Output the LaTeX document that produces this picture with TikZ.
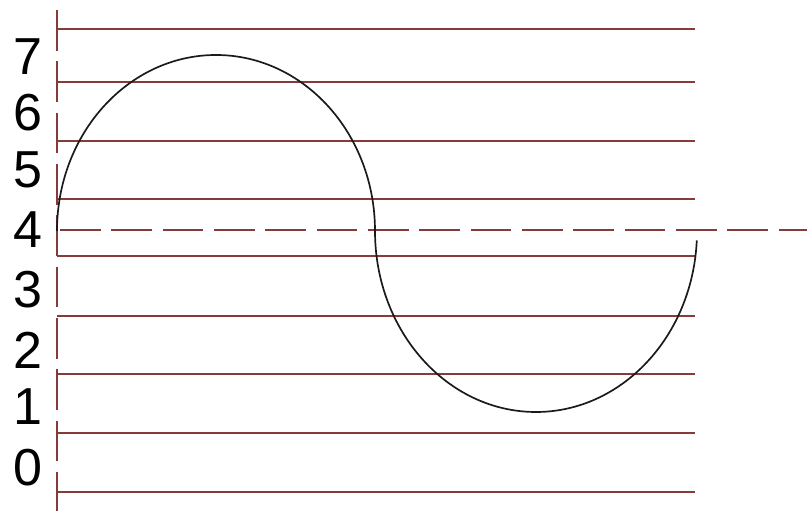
\documentclass[tikz,border=0pt]{standalone}
\usepackage{fontspec}
\setmainfont{Liberation Sans}
\usepackage{tikz}
\usetikzlibrary{positioning}
\usepackage{xcolor}
\definecolor{rule}{HTML}{863A3A}
\definecolor{ink}{HTML}{1A1A1A}

\begin{document}
\begin{tikzpicture}[x=0.025cm, y=0.025cm,
    level/.style={rule, line width=1.1pt},
    axisdash/.style={rule, line width=1.1pt, dash pattern=on 29pt off 7.5pt},
    digit/.style={font=\fontsize{37}{37}\selectfont, inner sep=0pt, text=black}]
  \useasboundingbox (0,0) rectangle (807,511);
  % level lines
  \foreach \y in {482,429,370,312,255,195,137,78,19}
    \draw[level] (57,\y) -- (695,\y);
  % axis and mid line
  \draw[axisdash] (57,501) -- (57,0);
  \draw[axisdash] (60,281) -- (807,281);
  % level numbers
  \foreach \n/\y in {7/454,6/398,5/341,4/281,3/221,2/161,1/104,0/43}
    \node[digit] (lbl\n) at (28,\y) {\n};
  % the wave
  \draw[ink, line width=1.2pt] (57,280) arc[start angle=180, end angle=0, x radius=159, y radius=176]
    arc[start angle=180, end angle=357, x radius=161, y radius=181];
\end{tikzpicture}
\end{document}
